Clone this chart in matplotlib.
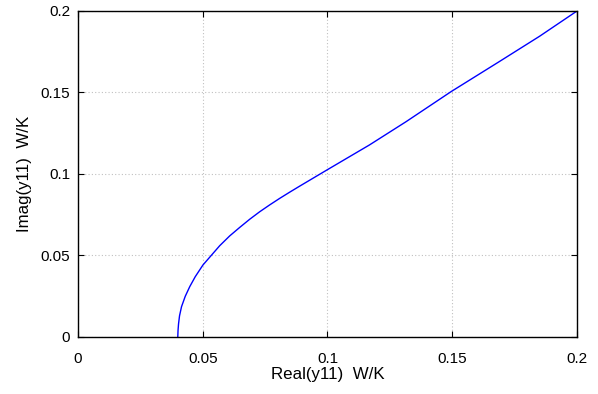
import numpy as np
import matplotlib.pyplot as plt

# curve (Real vs Imag of y11)
real_y11 = [0.0400, 0.0401, 0.0403, 0.0407, 0.0415, 0.0430, 0.0448, 0.0470,
            0.0501, 0.0568, 0.0608, 0.0648, 0.0688, 0.0728, 0.0768, 0.0808,
            0.0848, 0.0888, 0.0997, 0.1088, 0.1168, 0.1315, 0.1495, 0.1688,
            0.1850, 0.2000]
imag_y11 = [0.0000, 0.0040, 0.0080, 0.0130, 0.0186, 0.0250, 0.0309, 0.0370,
            0.0442, 0.0560, 0.0620, 0.0672, 0.0722, 0.0768, 0.0810, 0.0850,
            0.0888, 0.0925, 0.1024, 0.1106, 0.1178, 0.1321, 0.1505, 0.1689,
            0.1845, 0.2000]
xticks = [0, 0.05, 0.1, 0.15, 0.2]
yticks = [0, 0.05, 0.1, 0.15, 0.2]
tick_labels = ['0', '0.05', '0.1', '0.15', '0.2']

plt.rcParams['font.family'] = ['Liberation Sans', 'DejaVu Sans']
plt.rcParams['font.size'] = 11

fig = plt.figure(figsize=(5.98, 3.94), dpi=100)
ax = fig.add_axes([0.1304, 0.1447, 0.8345, 0.8274])

ax.plot(real_y11, imag_y11, color='blue', lw=1)

ax.set_xlim(0, 0.2)
ax.set_ylim(0, 0.2)
ax.set_xticks(xticks)
ax.set_yticks(yticks)
ax.set_xticklabels(tick_labels)
ax.set_yticklabels(tick_labels)
ax.grid(True, ls=(0, (1, 2)), color='#c0c0c0', lw=0.8)
ax.tick_params(direction='in', top=True, right=True, length=4, width=0.8,
               labelsize=11)
ax.tick_params(axis='x', pad=11)
ax.tick_params(axis='y', pad=5.5)
for s in ax.spines.values():
    s.set_linewidth(1)
    s.set_color('black')

ax.set_xlabel('Real(y11)  W/K', fontsize=12.2, labelpad=0.5)
ax.set_ylabel('Imag(y11)  W/K', fontsize=12.2, labelpad=6)

fig.savefig('out.png', dpi=100)
